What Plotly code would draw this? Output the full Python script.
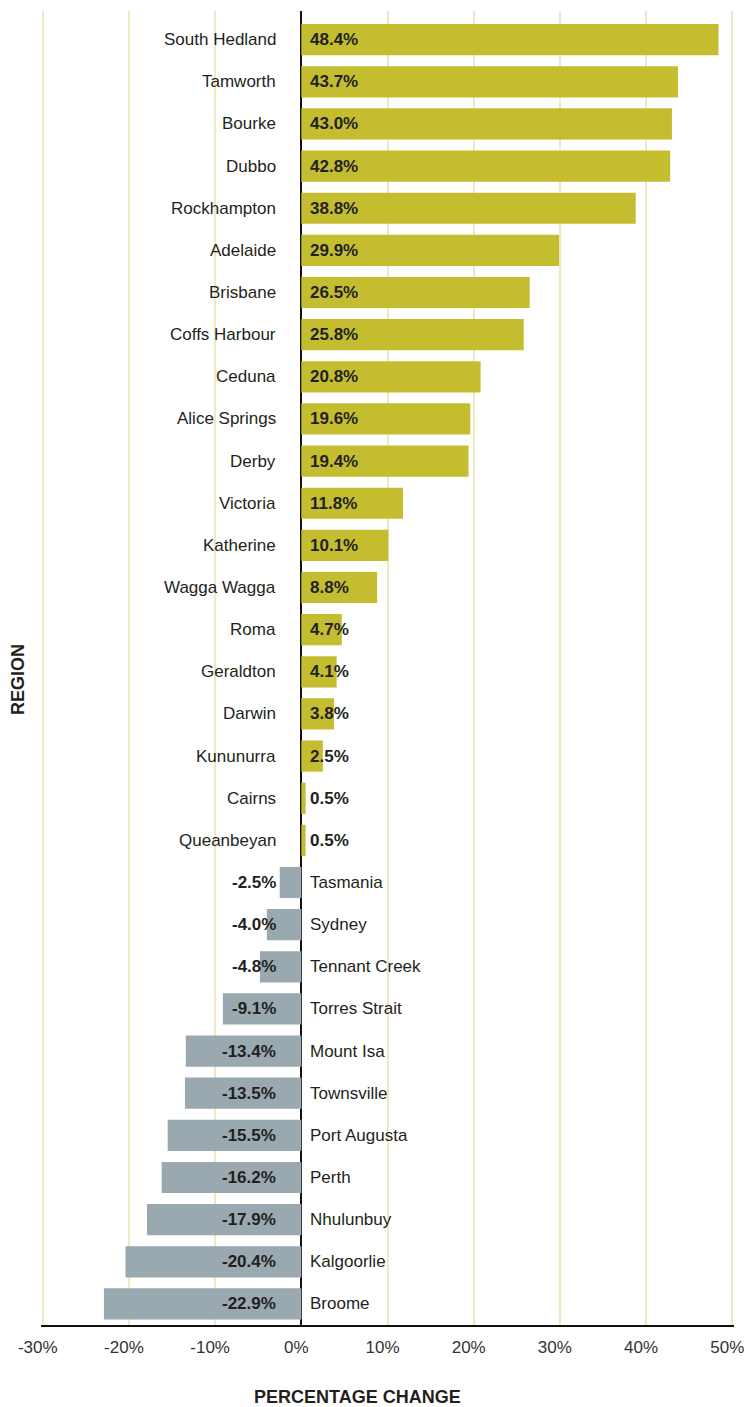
import plotly.graph_objects as go

regions = [
    "South Hedland", "Tamworth", "Bourke", "Dubbo", "Rockhampton", "Adelaide",
    "Brisbane", "Coffs Harbour", "Ceduna", "Alice Springs", "Derby", "Victoria",
    "Katherine", "Wagga Wagga", "Roma", "Geraldton", "Darwin", "Kununurra",
    "Cairns", "Queanbeyan", "Tasmania", "Sydney", "Tennant Creek",
    "Torres Strait", "Mount Isa", "Townsville", "Port Augusta", "Perth",
    "Nhulunbuy", "Kalgoorlie", "Broome",
]
pct_change = [
    48.4, 43.7, 43.0, 42.8, 38.8, 29.9, 26.5, 25.8, 20.8, 19.6, 19.4, 11.8,
    10.1, 8.8, 4.7, 4.1, 3.8, 2.5, 0.5, 0.5, -2.5, -4.0, -4.8, -9.1, -13.4,
    -13.5, -15.5, -16.2, -17.9, -20.4, -22.9,
]
tick_vals = [-30, -20, -10, 0, 10, 20, 30, 40, 50]
tick_text = ["-30%", "-20%", "-10%", "0%", "10%", "20%", "30%", "40%", "50%"]

POS_COLOR = "#C5BD30"
NEG_COLOR = "#9AA8AF"
TEXT_COLOR = "#231F20"
GRID_COLOR = "#EEE9BE"
FONT = "Liberation Sans, Arial, Helvetica, sans-serif"

colors = [POS_COLOR if v >= 0 else NEG_COLOR for v in pct_change]

fig = go.Figure(
    go.Bar(
        x=pct_change,
        y=regions,
        orientation="h",
        marker=dict(color=colors, line=dict(width=0)),
        hoverinfo="skip",
    )
)

annotations = []
for name, v in zip(regions, pct_change):
    if v >= 0:
        # value just right of the zero line, name to the left
        value_anchor, value_shift = "left", 7
        name_anchor, name_shift = "right", -23
    else:
        # value to the left of the zero line, name to the right
        value_anchor, value_shift = "right", -23
        name_anchor, name_shift = "left", 7
    annotations.append(dict(
        x=0, y=name, xref="x", yref="y",
        text=f"<b>{v:.1f}%</b>",
        showarrow=False, xanchor=value_anchor, xshift=value_shift,
        font=dict(family=FONT, size=17, color=TEXT_COLOR),
    ))
    annotations.append(dict(
        x=0, y=name, xref="x", yref="y",
        text=name,
        showarrow=False, xanchor=name_anchor, xshift=name_shift,
        font=dict(family=FONT, size=17, color=TEXT_COLOR),
    ))

# axis titles
annotations.append(dict(
    x=0.456, y=-0.055, xref="paper", yref="paper",
    text="<b>PERCENTAGE CHANGE</b>",
    showarrow=False, xanchor="center", yanchor="middle",
    font=dict(family=FONT, size=18, color=TEXT_COLOR),
))
annotations.append(dict(
    x=-0.0332, y=0.4916, xref="paper", yref="paper",
    text="<b>REGION</b>", textangle=-90,
    showarrow=False, xanchor="center", yanchor="middle",
    font=dict(family=FONT, size=18, color=TEXT_COLOR),
))

fig.update_layout(
    width=746,
    height=1407,
    margin=dict(l=41, r=12, t=11, b=82, autoexpand=False),
    paper_bgcolor="white",
    plot_bgcolor="white",
    bargap=0.26,
    showlegend=False,
    font=dict(family=FONT, size=17, color=TEXT_COLOR),
    annotations=annotations,
)

fig.update_xaxes(
    range=[-30.2, 50.2],
    automargin=False,
    tickvals=tick_vals,
    ticktext=tick_text,
    tickfont=dict(family=FONT, size=17, color="#333333"),
    ticklabelshift=-5,
    showgrid=True,
    gridcolor=GRID_COLOR,
    gridwidth=1.5,
    zeroline=True,
    zerolinecolor="#111111",
    zerolinewidth=1.5,
    showline=True,
    linecolor="#111111",
    linewidth=1.5,
    ticks="outside",
    ticklen=6,
    tickcolor="rgba(0,0,0,0)",
    fixedrange=True,
)
fig.update_yaxes(
    categoryorder="array",
    categoryarray=regions,
    range=[30.5, -0.68],
    automargin=False,
    showticklabels=False,
    showgrid=False,
    showline=False,
    zeroline=False,
    fixedrange=True,
)

fig.write_html("out.html")
